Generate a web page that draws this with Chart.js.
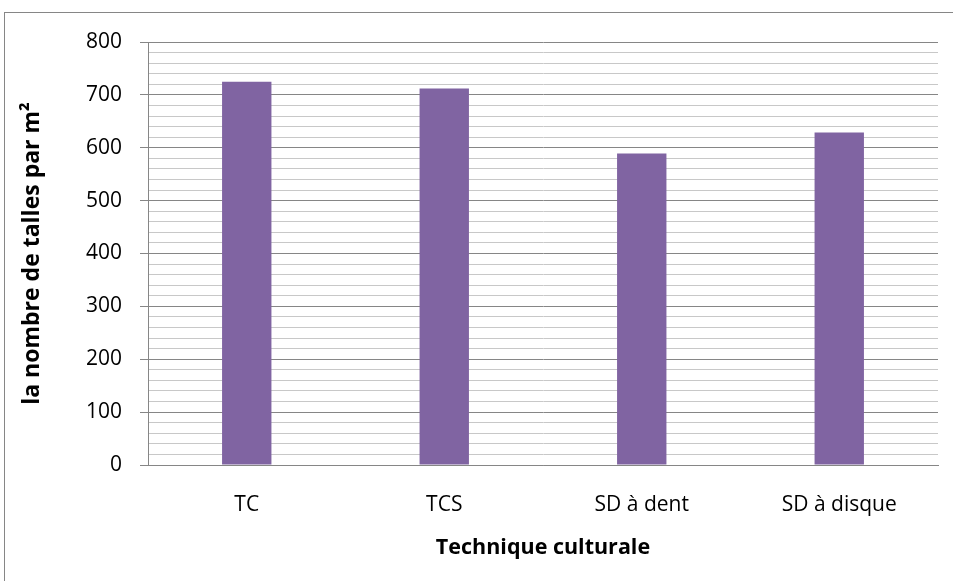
<!DOCTYPE html>
<html>
<head>
<meta charset="utf-8">
<script src="https://cdn.jsdelivr.net/npm/chart.js@4/dist/chart.umd.min.js"></script>
<style>
    html, body { margin: 0; padding: 0; background: #fff; }
    #wrap { position: relative; width: 953px; height: 581px; overflow: hidden; }
    #frame {
        position: absolute; left: 4px; top: 12px;
        width: 1000px; height: 700px;
        border: 1px solid #868686;
    }
    #talles { position: absolute; left: 0; top: 0; }
</style>
</head>
<body>
<div id="wrap">
    <div id="frame"></div>
    <canvas id="talles" width="953" height="581"></canvas>
</div>
<script>
const techniques = ['TC', 'TCS', 'SD à dent', 'SD à disque'];
const nombreTalles = [725, 712, 589, 629];
const yMin = 0;
const yMax = 800;
const yStep = 20;   // lignes secondaires tous les 20
const yLabelStep = 100;

const police = "'Open Sans', 'Noto Sans', sans-serif";

new Chart(document.getElementById('talles').getContext('2d'), {
    type: 'bar',
    data: {
        labels: techniques,
        datasets: [{
            data: nombreTalles,
            backgroundColor: '#8064A2',
            borderWidth: 0,
            categoryPercentage: 0.5,
            barPercentage: 0.5
        }]
    },
    options: {
        responsive: false,
        animation: false,
        layout: { padding: { left: 0, top: 42, right: 15, bottom: 0 } },
        plugins: {
            legend: { display: false },
            tooltip: { enabled: false }
        },
        scales: {
            x: {
                afterFit: (scale) => { scale.height = 116; },
                grid: { display: true, color: 'rgba(0,0,0,0)', drawTicks: false },
                border: { display: true, color: '#868686', width: 1 },
                ticks: {
                    color: '#000',
                    padding: 27,
                    font: { family: police, size: 21 }
                },
                title: {
                    display: true,
                    text: 'Technique culturale',
                    color: '#000',
                    padding: { top: 0, bottom: 20 },
                    font: { family: police, size: 21.5, weight: 'bold' }
                }
            },
            y: {
                min: yMin,
                max: yMax,
                afterFit: (scale) => { scale.width = 148; },
                afterBuildTicks: (scale) => {
                    const t = [];
                    for (let v = yMin; v <= yMax; v += yStep) t.push({ value: v });
                    scale.ticks = t;
                },
                grid: {
                    color: (c) => (c.tick && c.tick.value % yLabelStep === 0) ? '#868686' : '#C8C8C8',
                    tickColor: (c) => (c.tick && c.tick.value % yLabelStep === 0) ? '#868686' : 'rgba(0,0,0,0)',
                    tickLength: 8,
                    lineWidth: 1
                },
                border: { display: true, color: '#868686', width: 1 },
                ticks: {
                    autoSkip: false,
                    color: '#000',
                    padding: 18,
                    font: { family: police, size: 21 },
                    callback: (v) => (v % yLabelStep === 0) ? v : ''
                },
                title: {
                    display: true,
                    text: 'la nombre de talles par m²',
                    color: '#000',
                    padding: { top: 19, bottom: 0 },
                    font: { family: police, size: 23, weight: 'bold' }
                }
            }
        }
    }
});
</script>
</body>
</html>
